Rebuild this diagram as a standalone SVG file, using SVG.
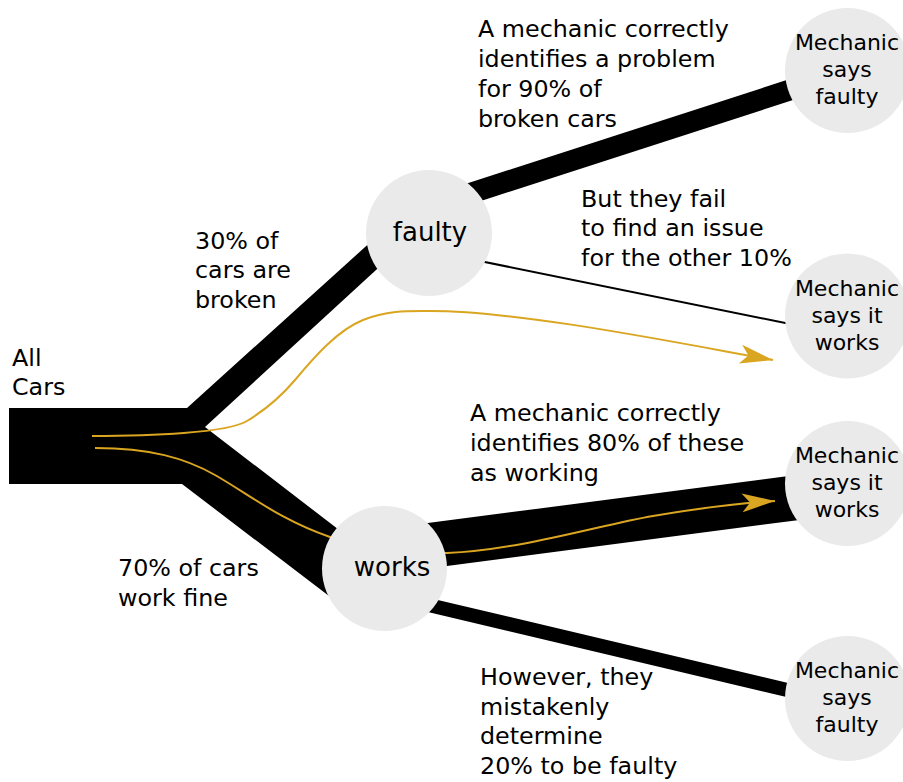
<svg xmlns="http://www.w3.org/2000/svg" width="903" height="782" viewBox="0 0 903 782">
<style>
text{font-family:"DejaVu Sans","Liberation Sans",sans-serif;fill:#000}
.ann{font-size:23.8px}
.mid{font-size:26px;text-anchor:middle}
.leaf{font-size:22px;text-anchor:middle}
.node{fill:#eaeaea}
.band{stroke:#000;stroke-linecap:butt;fill:none}
.flow{stroke:#daa520;stroke-width:2;fill:none}
</style>
<defs>
<marker id="arrow" markerUnits="userSpaceOnUse" viewBox="-34 -10 36 20" refX="0" refY="0" markerWidth="36" markerHeight="20" orient="auto">
<path d="M0,0 L-33,-9.5 L-25,0 L-33,9.5 Z" fill="#daa520"/>
</marker>
</defs>
<rect width="903" height="782" fill="#fff"/>
<g id="connectors">
<polygon id="trunk" points="9,408 187,408 385,229 400,248 205,427 360,546 350,612 182,484 9,484" fill="#000"/>
<line class="band" x1="440" y1="203.2" x2="830" y2="77.1" stroke-width="21"/>
<line class="band" x1="470" y1="259" x2="800" y2="326" stroke-width="2"/>
<line class="band" x1="400" y1="549.4" x2="820" y2="494.6" stroke-width="45"/>
<line class="band" x1="400" y1="598.2" x2="820" y2="697.8" stroke-width="14"/>
<path class="flow" d="M92,436 C150,436 227,433 247,421 C265,410 279,399 295,380 C315,356 338,330 363,320 C388,310 410,311 430,311 C520,311 673,342 773,360" marker-end="url(#arrow)"/>
<path class="flow" d="M95,448 C150,448 185,458 215,475 C250,495 280,520 330,537 C370,550 400,555 447,553 C520,550 600,525 653,516 C700,508 740,503 775,501" marker-end="url(#arrow)"/>
</g>
<g id="node-all-cars">
<text class="ann" x="12" y="366">All</text>
<text class="ann" x="12" y="395">Cars</text>
</g>
<g id="node-faulty">
<circle class="node" cx="429" cy="233" r="63"/>
<text class="mid" x="430" y="241">faulty</text>
</g>
<g id="node-works">
<circle class="node" cx="384.5" cy="568.5" r="62.5"/>
<text class="mid" x="392" y="576">works</text>
</g>
<g id="node-says-faulty-1">
<circle class="node" cx="847.5" cy="70.5" r="62.5"/>
<text class="leaf" x="847" y="50">Mechanic</text>
<text class="leaf" x="847" y="77">says</text>
<text class="leaf" x="847" y="104">faulty</text>
</g>
<g id="node-says-works-1">
<circle class="node" cx="847.5" cy="316" r="62.5"/>
<text class="leaf" x="847" y="296">Mechanic</text>
<text class="leaf" x="847" y="323">says it</text>
<text class="leaf" x="847" y="350">works</text>
</g>
<g id="node-says-works-2">
<circle class="node" cx="847.5" cy="483.5" r="62.5"/>
<text class="leaf" x="847" y="463">Mechanic</text>
<text class="leaf" x="847" y="490">says it</text>
<text class="leaf" x="847" y="517">works</text>
</g>
<g id="node-says-faulty-2">
<circle class="node" cx="847.5" cy="698.5" r="62.5"/>
<text class="leaf" x="847" y="678">Mechanic</text>
<text class="leaf" x="847" y="705">says</text>
<text class="leaf" x="847" y="732">faulty</text>
</g>
<g id="labels">
<text class="ann" x="195" y="248.5">30% of</text>
<text class="ann" x="195" y="278">cars are</text>
<text class="ann" x="195" y="307.5">broken</text>
<text class="ann" x="118" y="576">70% of cars</text>
<text class="ann" x="118" y="605.5">work fine</text>
<text class="ann" x="478" y="37">A mechanic correctly</text>
<text class="ann" x="478" y="67">identifies a problem</text>
<text class="ann" x="478" y="97">for 90% of</text>
<text class="ann" x="478" y="127">broken cars</text>
<text class="ann" x="581" y="206.5">But they fail</text>
<text class="ann" x="581" y="236">to find an issue</text>
<text class="ann" x="581" y="265.5">for the other 10%</text>
<text class="ann" x="470" y="421">A mechanic correctly</text>
<text class="ann" x="470" y="451">identifies 80% of these</text>
<text class="ann" x="470" y="480.5">as working</text>
<text class="ann" x="480" y="685">However, they</text>
<text class="ann" x="480" y="714.5">mistakenly</text>
<text class="ann" x="480" y="744">determine</text>
<text class="ann" x="480" y="773.5">20% to be faulty</text>
</g>
</svg>
